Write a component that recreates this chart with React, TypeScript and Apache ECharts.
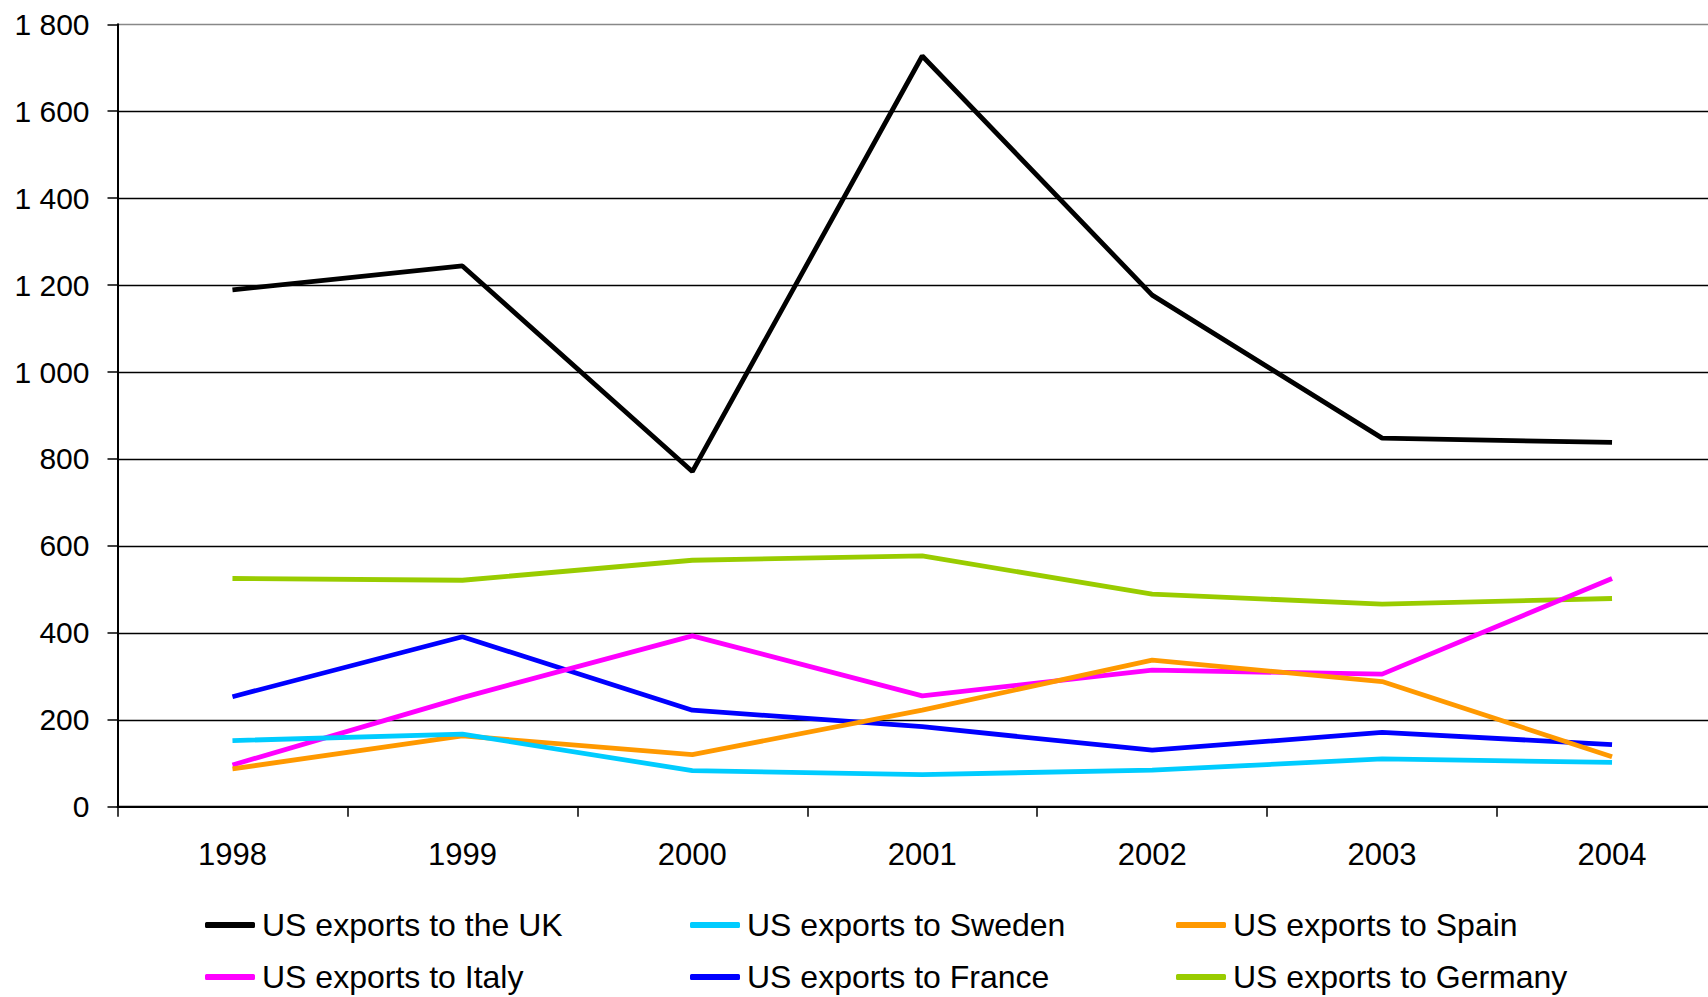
import React, { useEffect, useRef } from "react";
import * as echarts from "echarts";

const years = ["1998", "1999", "2000", "2001", "2002", "2003", "2004"];
const seriesNames = [
  "US exports to the UK",
  "US exports to Sweden",
  "US exports to Spain",
  "US exports to Italy",
  "US exports to France",
  "US exports to Germany",
];
const ukValues = [1189, 1244, 771, 1727, 1177, 848, 838];
const swedenValues = [152, 167, 83, 74, 84, 110, 102];
const spainValues = [87, 163, 120, 222, 337, 288, 115];
const italyValues = [96, 251, 393, 255, 314, 305, 525];
const franceValues = [253, 391, 222, 184, 130, 171, 143];
const germanyValues = [525, 521, 567, 577, 489, 466, 479];
const colors = ["#000000", "#00CCFF", "#FF9900", "#FF00FF", "#0000FF", "#99CC00"];
const allValues = [ukValues, swedenValues, spainValues, italyValues, franceValues, germanyValues];

const FONT = "'Liberation Sans', Arial, sans-serif";

export default function App() {
  const ref = useRef<HTMLDivElement>(null);
  useEffect(() => {
    if (!ref.current) return;
    const chart = echarts.init(ref.current, null, { renderer: "svg" });
    const legendLefts = [205, 690, 1176];
    const legendTops = [909, 961];
    const legends = seriesNames.map((name, i) => ({
      data: [name],
      left: legendLefts[i % 3],
      top: legendTops[Math.floor(i / 3)],
      orient: "horizontal",
      icon: "roundRect",
      itemWidth: 50,
      itemHeight: 6,
      itemGap: 0,
      padding: 0,
      selectedMode: false,
      textStyle: { fontFamily: FONT, fontSize: 32, color: "#000", lineHeight: 32, padding: [0, 0, 0, 2] },
    }));
    const gridColors = ["#000", "#000", "#000", "#000", "#000", "#000", "#000", "#000", "#000", "#888888"];
    chart.setOption({
      animation: false,
      textStyle: { fontFamily: FONT },
      legend: legends,
      grid: { left: 117.5, right: 0, top: 24.3, bottom: 190.3, containLabel: false },
      xAxis: {
        type: "category",
        data: years,
        boundaryGap: true,
        axisLine: { show: true, lineStyle: { color: "#000", width: 2 } },
        axisTick: { show: true, length: 10, inside: false, lineStyle: { color: "#000", width: 1.5 } },
        axisLabel: { fontFamily: FONT, fontSize: 31, color: "#000", margin: 32, lineHeight: 31, interval: 0 },
        splitLine: { show: false },
      },
      yAxis: {
        type: "value",
        min: 0,
        max: 1800,
        interval: 200,
        axisLine: { show: true, lineStyle: { color: "#000", width: 2 } },
        axisTick: { show: true, length: 10, lineStyle: { color: "#000", width: 1.5 } },
        axisLabel: {
          fontFamily: FONT,
          fontSize: 30,
          color: "#000",
          margin: 28,
          formatter: (v: number) => {
            const s = String(v);
            return s.length > 3 ? s.slice(0, s.length - 3) + " " + s.slice(-3) : s;
          },
        },
        splitLine: { show: true, lineStyle: { color: gridColors, width: 1.3 } },
      },
      series: seriesNames.map((name, i) => ({
        name,
        type: "line",
        data: allValues[i],
        showSymbol: false,
        symbol: "none",
        color: colors[i],
        lineStyle: { color: colors[i], width: 4.8 },
        z: 10 - i,
      })),
    });
    return () => chart.dispose();
  }, []);
  return (
    <div style={{ position: "fixed", left: 0, top: 0, width: 1708, height: 997, overflow: "hidden", background: "#fff" }}>
      <div ref={ref} style={{ position: "absolute", left: 0, top: 0, width: 1727, height: 997 }} />
    </div>
  );
}
